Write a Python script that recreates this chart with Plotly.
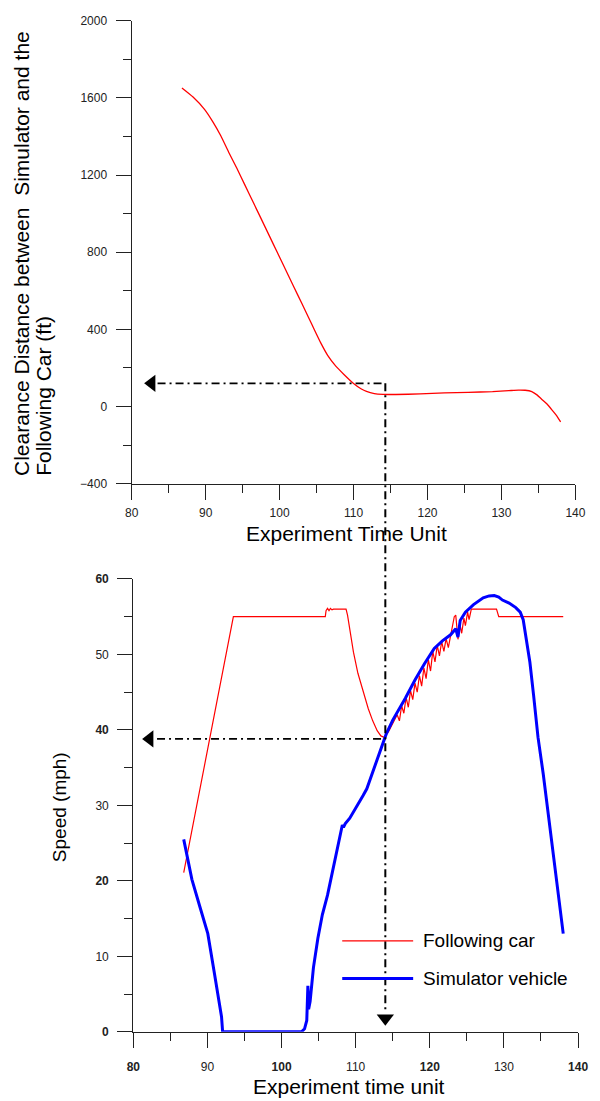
import plotly.graph_objects as go

# ---------------- data ----------------
# Top panel: clearance distance (ft) vs experiment time
clear_time = [86.8, 88.3, 89.85, 91.0, 92.05, 93.1, 94.24, 95.3, 96.42, 97.5, 98.6, 99.7,
              100.8, 101.9, 103.0, 103.9, 104.75, 105.6, 106.5, 107.6, 108.7, 110.0, 111.0,
              111.75, 112.8, 114.0, 115.7, 119.0, 122.3, 125.5, 128.8, 131.0, 132.3, 133.2,
              134.1, 134.8, 135.4, 136.1, 136.7, 137.4, 138.0]
clearance = [1652, 1605, 1541, 1475, 1404, 1320, 1234, 1149, 1060, 974, 886, 798,
             710, 622, 535, 463, 394, 327, 265, 209, 166, 119, 92,
             78, 67, 63, 62, 65, 70, 73, 77, 82, 85, 84,
             77, 60, 39, 15, -12, -45, -80]

# Bottom panel: following car speed (mph)
follow_time = [86.8, 93.5, 105.9, 106.0, 106.2, 106.4, 106.6, 106.8, 107.0, 108.7, 108.9,
               109.7, 110.3, 111.0, 111.7, 112.3, 112.9, 113.4, 113.9, 114.5, 115.0, 115.3,
               115.6, 115.9, 116.2, 116.5, 116.8, 117.1, 117.4, 117.7, 118.0, 118.3, 118.6,
               118.9, 119.2, 119.5, 119.8, 120.1, 120.4, 120.7, 121.0, 121.3, 121.6, 121.9,
               122.2, 122.5, 122.8, 123.1, 123.3, 123.5, 123.8, 124.1, 124.3, 124.6, 124.8,
               125.1, 125.3, 125.6, 129.0, 129.3, 138.0]
follow_speed = [21.1, 55.0, 55.0, 55.8, 56.1, 55.8, 56.1, 55.9, 56.0, 56.0, 55.2,
                50.3, 47.5, 45.1, 42.8, 41.2, 39.9, 39.2, 39.0, 39.9, 40.8, 41.5,
                42.0, 41.2, 43.2, 42.2, 44.3, 43.0, 45.2, 44.0, 46.2, 45.0, 47.2,
                45.8, 48.2, 46.8, 49.3, 47.8, 50.4, 49.0, 51.2, 49.8, 51.7, 50.4,
                52.1, 50.9, 52.5, 53.8, 55.0, 55.2, 52.0, 53.8, 52.8, 54.8, 53.8,
                55.6, 54.6, 56.0, 56.0, 55.0, 55.0]

# Bottom panel: simulator vehicle speed (mph)
sim_time = [86.8, 87.9, 89.0, 90.05, 90.9, 91.5, 91.9, 92.05, 102.7, 103.1, 103.4, 103.55,
            103.65, 103.85, 104.3, 104.9, 105.5, 106.2, 107.2, 108.2, 108.35, 108.6, 109.2,
            109.7, 110.2, 111.0, 111.5, 112.5, 113.3, 114.1, 115.0, 116.0, 116.7, 118.0,
            119.3, 120.6, 121.7, 122.8, 123.5, 123.8, 124.1, 124.8, 125.9, 127.2, 128.0,
            128.7, 129.3, 129.8, 130.7, 131.6, 132.2, 132.6, 132.9, 133.5, 134.0, 134.6,
            135.3, 136.6, 138.0]
sim_speed = [25.5, 20.2, 16.5, 13.0, 8.0, 4.5, 2.0, 0.0, 0.0, 0.4, 1.5, 6.1,
             3.0, 4.0, 8.5, 12.4, 15.5, 18.1, 22.8, 27.4, 27.1, 27.6, 28.3,
             29.1, 30.0, 31.3, 32.2, 35.0, 37.3, 39.4, 41.3, 43.0, 44.2, 46.6,
             48.8, 50.8, 51.8, 52.6, 53.4, 52.3, 54.5, 55.6, 56.6, 57.5, 57.75,
             57.8, 57.6, 57.2, 56.8, 56.2, 55.6, 54.6, 52.9, 49.0, 44.6, 39.0,
             34.2, 23.8, 13.0]

# Marked crossing point (annotation guides)
cross_time = 114.0
cross_clearance = 120
cross_speed = 38.8

x_ticks = [80, 90, 100, 110, 120, 130, 140]
top_y_ticks = [-400, 0, 400, 800, 1200, 1600, 2000]
bot_y_ticks = [0, 10, 20, 30, 40, 50, 60]
bot_x_ticktext = ["<b>80</b>", "90", "<b>100</b>", "110", "<b>120</b>", "130", "<b>140</b>"]
bot_y_ticktext = ["<b>0</b>", "10", "<b>20</b>", "30", "<b>40</b>", "50", "<b>60</b>"]

# ---------------- layout geometry ----------------
W, H = 600, 1101
FONT = "Arial, Liberation Sans, sans-serif"
top_xdom = [128.3 / W, 585 / W]
top_ydom = [1 - 482.7 / H, 1 - 14 / H]
bot_xdom = [130 / W, 587.7 / W]
bot_ydom = [1 - 1038 / H, 1 - 579.3 / H]
TOP_YR = [-400, 2000]
BOT_YR = [0, 60]

RED = "#ff0000"
BLUE = "#0000ff"
AX = "#222222"
DASH = "8px,4px,2px,4px"

fig = go.Figure()

fig.add_trace(go.Scatter(x=clear_time, y=clearance, mode="lines",
                         line=dict(color=RED, width=1.3, shape="spline", smoothing=0.5),
                         xaxis="x", yaxis="y", showlegend=False))
fig.add_trace(go.Scatter(x=follow_time, y=follow_speed, mode="lines",
                         line=dict(color=RED, width=1.2),
                         xaxis="x2", yaxis="y2", showlegend=False, cliponaxis=False))
fig.add_trace(go.Scatter(x=sim_time, y=sim_speed, mode="lines",
                         line=dict(color=BLUE, width=3),
                         xaxis="x2", yaxis="y2", showlegend=False, cliponaxis=False))

# arrow heads
fig.add_trace(go.Scatter(x=[82.7], y=[cross_clearance], mode="markers",
                         marker=dict(symbol="triangle-left", size=15, color="black"),
                         xaxis="x", yaxis="y", showlegend=False, cliponaxis=False))
fig.add_trace(go.Scatter(x=[82.2], y=[cross_speed], mode="markers",
                         marker=dict(symbol="triangle-left", size=15, color="black"),
                         xaxis="x2", yaxis="y2", showlegend=False, cliponaxis=False))
fig.add_trace(go.Scatter(x=[cross_time], y=[1.8], mode="markers",
                         marker=dict(symbol="triangle-down", size=15, color="black"),
                         xaxis="x2", yaxis="y2", showlegend=False, cliponaxis=False))


def paper_y(val, dom, rng):
    return dom[0] + (val - rng[0]) / (rng[1] - rng[0]) * (dom[1] - dom[0])


shapes = [
    dict(type="line", xref="x", yref="y", x0=83.5, x1=114.3,
         y0=cross_clearance, y1=cross_clearance,
         line=dict(color="black", width=1.7, dash=DASH)),
    dict(type="line", xref="x2", yref="paper", x0=cross_time, x1=cross_time,
         y0=paper_y(cross_clearance, top_ydom, TOP_YR), y1=paper_y(3.0, bot_ydom, BOT_YR),
         line=dict(color="black", width=2, dash=DASH)),
    dict(type="line", xref="x2", yref="y2", x0=83.2, x1=cross_time,
         y0=cross_speed, y1=cross_speed,
         line=dict(color="black", width=1.7, dash=DASH)),
    # custom legend lines
    dict(type="line", xref="paper", yref="paper", x0=345 / W, x1=418 / W,
         y0=1 - 946 / H, y1=1 - 946 / H, line=dict(color=RED, width=1.2)),
    dict(type="line", xref="paper", yref="paper", x0=345 / W, x1=418 / W,
         y0=1 - 984 / H, y1=1 - 984 / H, line=dict(color=BLUE, width=3)),
]

annotations = [
    dict(text="Following car", x=426 / W, y=1 - 946 / H, xref="paper", yref="paper",
         xanchor="left", yanchor="middle", showarrow=False,
         font=dict(family=FONT, size=19, color="black")),
    dict(text="Simulator vehicle", x=426 / W, y=1 - 984 / H, xref="paper", yref="paper",
         xanchor="left", yanchor="middle", showarrow=False,
         font=dict(family=FONT, size=19, color="black")),
    dict(text="Experiment Time Unit", x=349 / W, y=1 - 533 / H, xref="paper", yref="paper",
         xanchor="center", yanchor="middle", showarrow=False,
         font=dict(family=FONT, size=21, color="black")),
    dict(text="Experiment time unit", x=352 / W, y=1 - 1093 / H, xref="paper", yref="paper",
         xanchor="center", yanchor="middle", showarrow=False,
         font=dict(family=FONT, size=21, color="black")),
    dict(text="Clearance Distance between  Simulator and the",
         x=15 / W, y=1 - 477 / H, xref="paper", yref="paper", textangle=-90,
         xanchor="center", yanchor="bottom", showarrow=False,
         font=dict(family=FONT, size=21, color="black")),
    dict(text="Following Car (ft)",
         x=38 / W, y=1 - 477 / H, xref="paper", yref="paper", textangle=-90,
         xanchor="center", yanchor="bottom", showarrow=False,
         font=dict(family=FONT, size=21, color="black")),
    dict(text="Speed (mph)", x=54 / W, y=1 - 810 / H, xref="paper", yref="paper",
         textangle=-90, xanchor="center", yanchor="middle", showarrow=False,
         font=dict(family=FONT, size=19, color="black")),
]

common = dict(showline=True, linecolor=AX, linewidth=1.3, ticks="outside", ticklen=15,
              tickwidth=1.3, tickcolor=AX, showgrid=False, zeroline=False,
              tickfont=dict(family=FONT, size=12, color=AX))
minor = dict(ticks="outside", ticklen=8, tickwidth=1.3, tickcolor=AX, showgrid=False)

fig.update_layout(
    width=W, height=H,
    margin=dict(l=0, r=0, t=0, b=0),
    paper_bgcolor="white", plot_bgcolor="white",
    showlegend=False,
    xaxis=dict(domain=top_xdom, anchor="y", range=[80, 140], tickvals=x_ticks,
               minor=dict(dtick=5, tick0=80, **minor), ticklabelstandoff=3, **common),
    yaxis=dict(domain=top_ydom, anchor="x", range=TOP_YR, tickvals=top_y_ticks,
               minor=dict(dtick=200, tick0=0, **minor), ticklabelstandoff=6, **common),
    xaxis2=dict(domain=bot_xdom, anchor="y2", range=[80, 140], tickvals=x_ticks,
                ticktext=bot_x_ticktext,
                minor=dict(dtick=5, tick0=80, **minor), ticklabelstandoff=9, **common),
    yaxis2=dict(domain=bot_ydom, anchor="x2", range=BOT_YR, tickvals=bot_y_ticks,
                ticktext=bot_y_ticktext,
                minor=dict(dtick=5, tick0=0, **minor), ticklabelstandoff=6, **common),
    shapes=shapes,
    annotations=annotations,
)

fig.write_html("out.html")
